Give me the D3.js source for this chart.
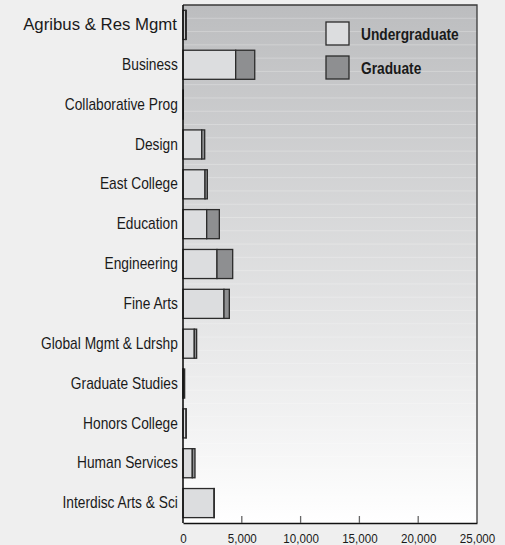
<!DOCTYPE html>
<html>
<head>
<meta charset="utf-8">
<script src="https://cdn.jsdelivr.net/npm/d3@7/dist/d3.min.js"></script>
<style>
  body { margin: 0; background: #efefef; }
  svg { display: block; }
  text { font-family: "Liberation Sans", Arial, sans-serif; fill: #1a1a1a; }
</style>
</head>
<body>
<svg id="chart"></svg>
<script>
// ---------- data ----------
var categories = ["Agribus & Res Mgmt", "Business", "Collaborative Prog", "Design", "East College",
  "Education", "Engineering", "Fine Arts", "Global Mgmt & Ldrshp", "Graduate Studies",
  "Honors College", "Human Services", "Interdisc Arts & Sci"];
var undergraduate = [220, 4480, 0, 1590, 1870, 2015, 2890, 3485, 960, 20, 260, 790, 2640];
var graduate = [60, 1620, 30, 255, 200, 1075, 1335, 455, 200, 120, 10, 230, 20];
var seriesNames = ["Undergraduate", "Graduate"];
var tickValues = [0, 5000, 10000, 15000, 20000, 25000];

// ---------- setup ----------
var screen = {width: 505, height: 545};
var plot = {left: 183, right: 477, top: 5, bottom: 523};
var colors = {Undergraduate: "#dcdddf", Graduate: "#8e8f91"};
var narrow = "scale(0.86,1)";

var svg = d3.select("#chart")
  .attr("width", screen.width)
  .attr("height", screen.height);

var xScale = d3.scaleLinear()
  .domain([0, 25000])
  .range([plot.left, plot.right]);

var yScale = d3.scaleBand()
  .domain(categories)
  .range([plot.top, plot.bottom])
  .paddingInner(0.27)
  .paddingOuter(0.135);

// ---------- background ----------
var defs = svg.append("defs");
var grad = defs.append("linearGradient")
  .attr("id", "bg")
  .attr("x1", 0).attr("y1", 0).attr("x2", 0).attr("y2", 1);
grad.append("stop").attr("offset", "0%").attr("stop-color", "#bcbdbf");
grad.append("stop").attr("offset", "100%").attr("stop-color", "#ffffff");

svg.append("rect")
  .attr("x", plot.left)
  .attr("y", plot.top)
  .attr("width", plot.right - plot.left)
  .attr("height", plot.bottom - plot.top)
  .attr("fill", "url(#bg)");

// faint stripes
var stripeStep = yScale.step() / 3;
var stripes = d3.range(plot.top + stripeStep, plot.bottom, stripeStep);
svg.append("g")
  .selectAll("line")
  .data(stripes)
  .enter()
  .append("line")
  .attr("x1", plot.left)
  .attr("x2", plot.right)
  .attr("y1", function(d) { return d; })
  .attr("y2", function(d) { return d; })
  .attr("stroke", "#ffffff")
  .attr("stroke-opacity", 0.25)
  .attr("stroke-width", 1);

// ---------- bars ----------
var rows = categories.map(function(c, i) {
  return {category: c, Undergraduate: undergraduate[i], Graduate: graduate[i]};
});
var stacked = d3.stack().keys(seriesNames)(rows);

svg.append("g")
  .selectAll("g")
  .data(stacked)
  .enter()
  .append("g")
  .attr("fill", function(s) { return colors[s.key]; })
  .selectAll("rect")
  .data(function(s) { return s.filter(function(d) { return d[1] - d[0] > 0; }); })
  .enter()
  .append("rect")
  .attr("x", function(d) { return xScale(d[0]); })
  .attr("y", function(d) { return yScale(d.data.category); })
  .attr("width", function(d) { return xScale(d[1]) - xScale(d[0]); })
  .attr("height", yScale.bandwidth())
  .attr("stroke", "#2b2b2b")
  .attr("stroke-width", 1.3);

// ---------- frame ----------
svg.append("path")
  .attr("d", "M" + plot.left + "," + plot.top + "H" + plot.right + "V" + plot.bottom)
  .attr("fill", "none")
  .attr("stroke", "#3a3a3a")
  .attr("stroke-width", 1.3);

// ---------- axes ----------
var xAxis = d3.axisBottom(xScale)
  .tickValues(tickValues)
  .tickSize(0)
  .tickPadding(10)
  .tickFormat(d3.format(","));
var gx = svg.append("g")
  .attr("transform", "translate(0," + plot.bottom + ")")
  .call(xAxis);
gx.select(".domain").attr("stroke", "#111").attr("stroke-width", 1.6);
gx.selectAll("text")
  .style("font-size", "13.5px")
  .attr("fill", "#1a1a1a")
  .attr("transform", narrow);

// inner tick marks
svg.append("g")
  .selectAll("line")
  .data(tickValues.slice(1, -1))
  .enter()
  .append("line")
  .attr("x1", function(d) { return xScale(d); })
  .attr("x2", function(d) { return xScale(d); })
  .attr("y1", plot.bottom)
  .attr("y2", plot.bottom - 7)
  .attr("stroke", "#666")
  .attr("stroke-width", 1.3);

var yAxis = d3.axisLeft(yScale)
  .tickSize(0)
  .tickPadding(6);
var gy = svg.append("g")
  .attr("transform", "translate(" + plot.left + ",0)")
  .call(yAxis);
gy.select(".domain")
  .attr("d", "M0," + plot.top + "V" + plot.bottom)
  .attr("stroke", "#111").attr("stroke-width", 1.6);
gy.selectAll("text")
  .style("font-size", function(d, i) { return i === 0 ? "16.8px" : "16px"; })
  .attr("fill", "#1a1a1a")
  .attr("transform", function(d, i) { return i === 0 ? null : narrow; });

// ---------- legend ----------
var legend = svg.append("g")
  .attr("transform", "translate(326,22)");
var items = legend.selectAll("g")
  .data(seriesNames)
  .enter()
  .append("g")
  .attr("transform", function(d, i) { return "translate(0," + (i * 34) + ")"; });
items.append("rect")
  .attr("width", 23)
  .attr("height", 23)
  .attr("fill", function(d) { return colors[d]; })
  .attr("stroke", "#2b2b2b")
  .attr("stroke-width", 1.3);
items.append("text")
  .attr("transform", "translate(35,12) " + narrow)
  .attr("dy", "0.35em")
  .style("font-size", "16px")
  .style("font-weight", "bold")
  .text(function(d) { return d; });
</script>
</body>
</html>
